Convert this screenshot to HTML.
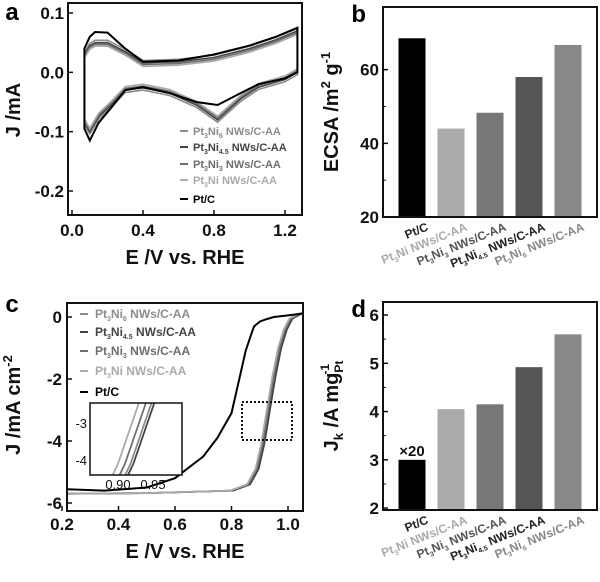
<!DOCTYPE html>
<html><head><meta charset="utf-8"><style>
body{margin:0;background:#fff;}
svg{display:block;font-family:"Liberation Sans",Arial,sans-serif;}
.tk{font-size:17px;font-weight:bold;fill:#111}
.tt{font-size:20px;font-weight:bold;fill:#111}
.pl{font-size:24px;font-weight:bold;fill:#000}
.lg{font-size:11px;font-weight:bold}
.xl{font-size:12px;font-weight:bold}
</style></head><body>
<svg id="fig" width="600" height="582" viewBox="0 0 600 582"></svg>
<script>
// ---------- data ----------
const seriesNames=["Pt3Ni6","Pt3Ni4.5","Pt3Ni3","Pt3Ni1","Pt/C"];
const seriesColors=["#8c8c8c","#444","#6e6e6e","#aaa","#000"];
// panel a (CV)
const cvE=[0.07,0.1,0.13,0.2,0.3,0.4,0.6,0.8,1.0,1.15,1.27];
const cvUpPtC=[0.04,0.06,0.068,0.067,0.04,0.018,0.02,0.03,0.045,0.06,0.075];
const cvUpNW=[0.03,0.045,0.05,0.05,0.035,0.016,0.018,0.025,0.04,0.055,0.07];
const cvErev=[1.27,1.2,1.05,0.95,0.82,0.7,0.55,0.4,0.3,0.22,0.15,0.1,0.07];
const cvDnPtC=[0.0,-0.01,-0.02,-0.035,-0.055,-0.05,-0.035,-0.025,-0.03,-0.06,-0.085,-0.115,-0.095];
const cvDnNW=[0.0,-0.012,-0.025,-0.045,-0.08,-0.055,-0.035,-0.026,-0.03,-0.055,-0.075,-0.1,-0.085];
const cvOffsets=[0.004,0.0,-0.003,-0.006];
// panel b
const barLabels=["Pt/C","Pt3Ni NWs/C-AA","Pt3Ni3 NWs/C-AA","Pt3Ni4.5 NWs/C-AA","Pt3Ni6 NWs/C-AA"];
const barColors=["#000","#aaa","#777","#555","#888"];
const ecsaValues=[68.5,44,48.3,58,66.7];
const ecsaTicks=[20,40,60];
// panel c (LSV)
const lsvE=[0.2,0.35,0.5,0.6,0.7,0.75,0.8,0.83,0.85,0.87,0.88,0.9,0.92,0.95,1.0,1.06];
const lsvPtC=[-5.55,-5.6,-5.5,-5.2,-4.5,-3.9,-3.1,-1.9,-1.1,-0.55,-0.3,-0.15,-0.08,0.0,0.05,0.12];
const lsvE2=[0.2,0.5,0.8,0.86,0.89,0.91,0.93,0.95,0.97,0.99,1.01,1.04,1.06];
const lsvNW=[-5.7,-5.68,-5.6,-5.4,-4.9,-4.1,-3.0,-1.9,-1.0,-0.4,-0.05,0.1,0.15];
const lsvShift=[0.004,0.006,0.0,-0.005];
const lsvTicksY=[0,-2,-4,-6];
const lsvTicksX=[0.2,0.4,0.6,0.8,1.0];
// panel d
const jkValues=[3.0,4.05,4.15,4.92,5.6];
const jkTicks=[2,3,4,5,6];

// ---------- helpers ----------
const NS="http://www.w3.org/2000/svg";
const svg=document.getElementById('fig');
function mk(tag,attrs,parent){const e=document.createElementNS(NS,tag);for(const k in attrs)e.setAttribute(k,attrs[k]);(parent||svg).appendChild(e);return e;}
function txt(s,x,y,cls,parent,anchor){const t=mk('text',{x:x,y:y,class:cls,'text-anchor':anchor||'middle'},parent);t.innerHTML=s;return t;}
function lin(d0,d1,r0,r1){return v=>r0+(v-d0)/(d1-d0)*(r1-r0);}
function pathOf(xs,ys,fx,fy,off){return xs.map((x,i)=>(i?'L':'M')+fx(x+(off||0)).toFixed(1)+','+fy(ys[i]).toFixed(1)).join('');}
const labelHTML=["Pt<tspan font-size='7' dy='3'>3</tspan><tspan dy='-3'>Ni</tspan><tspan font-size='7' dy='3'>6</tspan><tspan dy='-3'> NWs/C-AA</tspan>",
"Pt<tspan font-size='7' dy='3'>3</tspan><tspan dy='-3'>Ni</tspan><tspan font-size='7' dy='3'>4.5</tspan><tspan dy='-3'> NWs/C-AA</tspan>",
"Pt<tspan font-size='7' dy='3'>3</tspan><tspan dy='-3'>Ni</tspan><tspan font-size='7' dy='3'>3</tspan><tspan dy='-3'> NWs/C-AA</tspan>",
"Pt<tspan font-size='7' dy='3'>3</tspan><tspan dy='-3'>Ni NWs/C-AA</tspan>",
"Pt/C"];

// ---------- panel a ----------
(function(){
 const g=mk('g',{});
 
 
 const fx=lin(0,1.2,72,285), fy=lin(0.1,-0.2,13,191);
 for(let i=0;i<5;i++){
  const up=i==4?cvUpPtC:cvUpNW, dn=i==4?cvDnPtC:cvDnNW, o=i==4?0:cvOffsets[i];
  const upS=up.map(v=>v+o), dnS=dn.map(v=>v-o);
  const d=pathOf(cvE,upS,fx,fy)+pathOf(cvErev,dnS,fx,fy).replace('M','L')+'Z';
  const p=mk('path',{d:d,fill:'none',stroke:seriesColors[i],'stroke-width':i==4?2:1.6},g);
  
  
 }
 mk('rect',{x:68,y:3,width:234,height:212,fill:'none',stroke:'#111','stroke-width':2},g);
 [0.1,0,-0.1,-0.2].forEach(v=>{const y=fy(v);mk('line',{x1:68,x2:73,y1:y,y2:y,stroke:'#111','stroke-width':1.5},g);txt(v.toFixed(1),64,y+6,'tk',g,'end');});
 [0,0.4,0.8,1.2].forEach(v=>{const x=fx(v);mk('line',{x1:x,x2:x,y1:215,y2:210,stroke:'#111','stroke-width':1.5},g);txt(v.toFixed(1),x,236,'tk',g);});
 txt('E /V vs. RHE',185,264,'tt',g);
 const yt=txt('J /mA',0,0,'tt',g);yt.setAttribute('transform','translate(20,110) rotate(-90)');
 txt('a',12,20,'pl',g);
 const ly=[135,151,168,184,203];
 for(let i=0;i<5;i++){
  mk('line',{x1:180,x2:188,y1:ly[i]-4,y2:ly[i]-4,stroke:seriesColors[i],'stroke-width':2},g);
  const t=txt(labelHTML[i],193,ly[i],'lg',g,'start');t.setAttribute('fill',seriesColors[i]);
  
  
 }
})();

// ---------- bar panels ----------
function barPanel(name,letter,top,bottom,vals,ticks,ymin,ymax,ytitleHTML,extra){
 const g=mk('g',{});
 
 
 const fy=lin(ymin,ymax,bottom,top);
 const centers=[412,451,490,529,568];
 vals.forEach((v,i)=>{const r=mk('rect',{x:centers[i]-13.5,y:fy(v),width:27,height:bottom-fy(v),fill:barColors[i]},g);
  
  });
 mk('rect',{x:383,y:top,width:214,height:bottom-top,fill:'none',stroke:'#111','stroke-width':2},g);
 ticks.forEach(v=>{const y=fy(v);mk('line',{x1:383,x2:388,y1:y,y2:y,stroke:'#111','stroke-width':1.5},g);txt(String(v),379,y+6,'tk',g,'end');});
 for(let k=0;k<ticks.length-1;k++){const y=fy((ticks[k]+ticks[k+1])/2);mk('line',{x1:383,x2:386,y1:y,y2:y,stroke:'#111','stroke-width':1},g);}
 barLabels.forEach((s,i)=>{const t=txt(labelHTML[[4,3,2,1,0][i]],0,0,'xl',g,'end');
  t.setAttribute('transform','translate('+(centers[i]+17)+','+(bottom+13)+') rotate(-22)');
  t.setAttribute('fill',i==0||i==3?'#222':(i==1?'#aaa':(i==2?'#555':'#888')));});
 const yt=txt(ytitleHTML,0,0,'tt',g);yt.setAttribute('transform','translate(338,'+((top+bottom)/2)+') rotate(-90)');
 txt(letter,366,top+15,'pl',g,'end');
 if(extra)extra(g,fy,centers);
}
barPanel('panel-b-ecsa','b',7,217,ecsaValues,ecsaTicks,20,77,"ECSA /m<tspan font-size='13' dy='-8'>2</tspan><tspan dy='8'> g</tspan><tspan font-size='13' dy='-8'>-1</tspan>");
barPanel('panel-d-jk','d',302,510,jkValues,jkTicks,1.96,6.27,"J<tspan font-size='13' dy='5'>k</tspan><tspan dy='-5'> /A mg</tspan><tspan font-size='12' dy='5'>Pt</tspan><tspan font-size='12' dx='-14' dy='-14'>-1</tspan>",
 (g,fy,c)=>{txt('×20',c[0],fy(jkValues[0])-4,'tk',g).setAttribute('style','font-size:15px');});

// ---------- panel c ----------
(function(){
 const g=mk('g',{});
 
 
 const fx=lin(0.2,1.0,62,288), fy=lin(0,-6,317,503);
 const clip=mk('clipPath',{id:'cc'},g);mk('rect',{x:67,y:303,width:236,height:208},clip);
 const cg=mk('g',{'clip-path':'url(#cc)'},g);
 for(let i=0;i<5;i++){
  const d=i==4?pathOf(lsvE,lsvPtC,fx,fy):pathOf(lsvE2,lsvNW,fx,fy,lsvShift[i]);
  const p=mk('path',{d:d,fill:'none',stroke:seriesColors[i],'stroke-width':i==4?2:1.8,'stroke-linejoin':'round'},cg);
  
  
 }
 mk('rect',{x:67,y:303,width:236,height:208,fill:'none',stroke:'#111','stroke-width':2},g);
 lsvTicksY.forEach(v=>{const y=fy(v);mk('line',{x1:67,x2:72,y1:y,y2:y,stroke:'#111','stroke-width':1.5},g);txt(String(v),62,y+6,'tk',g,'end');});
 lsvTicksX.forEach(v=>{const x=fx(v);mk('line',{x1:x,x2:x,y1:511,y2:506,stroke:'#111','stroke-width':1.5},g);txt(v.toFixed(1),x,530,'tk',g);});
 txt('E /V vs. RHE',185,558,'tt',g);
 const yt=txt("J /mA cm<tspan font-size='13' dy='-8'>-2</tspan>",0,0,'tt',g);yt.setAttribute('transform','translate(20,405) rotate(-90)');
 txt('c',12,312,'pl',g);
 mk('rect',{x:242,y:402,width:50,height:38,fill:'none',stroke:'#111','stroke-width':2,'stroke-dasharray':'2,2'},g);
 const ly=[318,336,355,375,396];
 for(let i=0;i<5;i++){
  mk('line',{x1:80,x2:88,y1:ly[i]-4,y2:ly[i]-4,stroke:seriesColors[i],'stroke-width':2},g);
  const t=txt(labelHTML[i],95,ly[i],'lg',g,'start');t.setAttribute('fill',seriesColors[i]);t.setAttribute('style','font-size:12px');
  
  
 }
 // inset
 const ix=lin(0.90,0.95,118,153), iy=lin(-3,-4,423,460);
 const ic=mk('clipPath',{id:'ic'},g);mk('rect',{x:90,y:403,width:92,height:72},ic);
 mk('rect',{x:90,y:403,width:92,height:72,fill:'#fff'},g);
 const ig=mk('g',{'clip-path':'url(#ic)'},g);
 for(let i=0;i<4;i++){
  const p=mk('path',{d:pathOf(lsvE2,lsvNW,ix,iy,lsvShift[i]*2),fill:'none',stroke:seriesColors[i],'stroke-width':1.8},ig);
  
  
 }
 mk('rect',{x:90,y:403,width:92,height:72,fill:'none',stroke:'#111','stroke-width':1.5},g);
 [-3,-4].forEach(v=>{txt(String(v),87,iy(v)+5,'tk',g,'end').setAttribute('style','font-size:13px;font-weight:normal');});
 [0.90,0.95].forEach(v=>{txt(v.toFixed(2),ix(v),489,'tk',g).setAttribute('style','font-size:13px;font-weight:normal');});
})();
</script>
</body></html>
